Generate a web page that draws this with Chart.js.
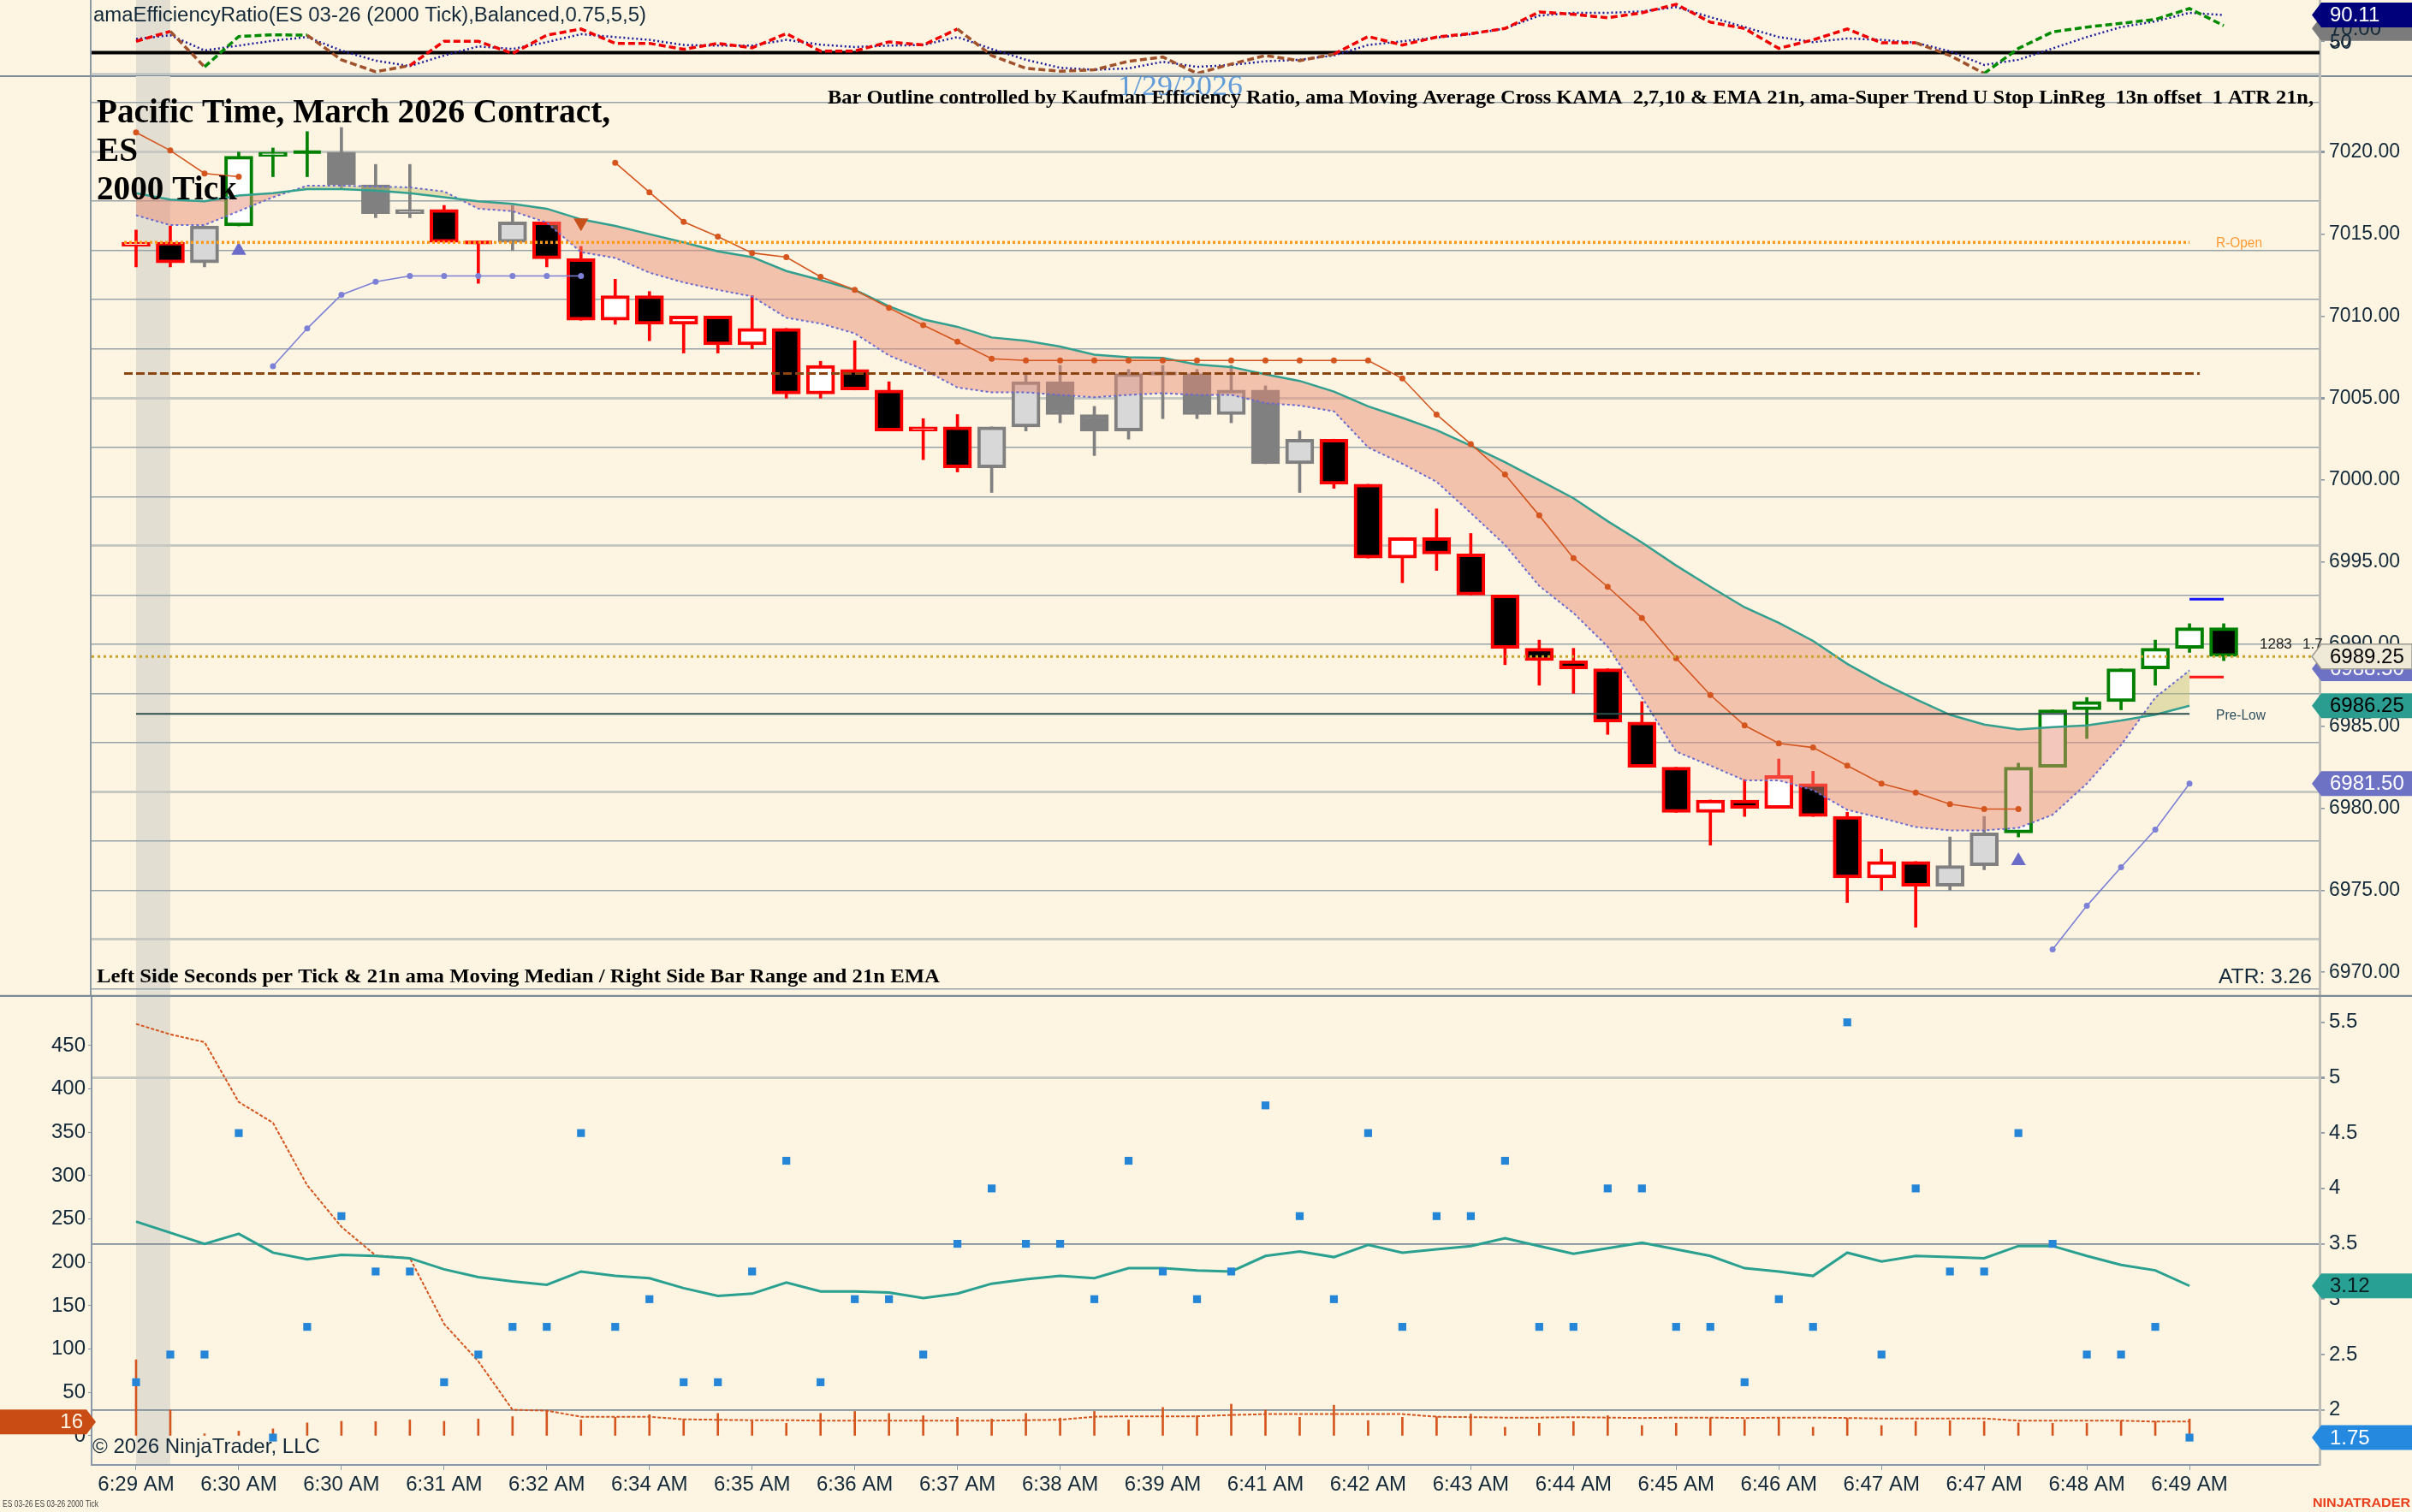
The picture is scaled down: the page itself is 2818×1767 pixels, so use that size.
<!DOCTYPE html>
<html>
<head>
<meta charset="utf-8">
<title>ES 03-26 2000 Tick</title>
<script src="https://cdn.jsdelivr.net/npm/chart.js@4.4.1/dist/chart.umd.min.js"></script>
<style>
  html, body { margin: 0; padding: 0; background: #fdf5e2; overflow: hidden; }
  #wrap { position: relative; width: 2818px; height: 1767px; background: #fdf5e2; }
  #wrap canvas { position: absolute; left: 0; }
</style>
</head>
<body>
<div id="wrap">
  <canvas id="erCanvas" width="2818" height="90" style="top:0"></canvas>
  <canvas id="priceCanvas" width="2818" height="1085" style="top:80px"></canvas>
  <canvas id="statCanvas" width="2818" height="602" style="top:1165px"></canvas>
</div>
<script>
// ---- data (one entry per 2000-tick bar) ----
const timeLabels = ['6:29 AM', '6:30 AM', '6:30 AM', '6:31 AM', '6:32 AM', '6:34 AM', '6:35 AM',
  '6:36 AM', '6:37 AM', '6:38 AM', '6:39 AM', '6:41 AM', '6:42 AM', '6:43 AM', '6:44 AM',
  '6:45 AM', '6:46 AM', '6:47 AM', '6:47 AM', '6:48 AM', '6:49 AM'];

const opens = [7014.25, 7014.5, 7013.25, 7015.5, 7019.75, 7020, 7020, 7018, 7016.25, 7016.5,
  7014.5, 7014.5, 7015.75, 7013.5, 7009.75, 7011.25, 7009.5, 7010, 7008.25, 7009.25,
  7005.25, 7006.75, 7005.5, 7003, 7003.25, 7000.75, 7003.25, 7006, 7004, 7003,
  7006.5, 7006.5, 7004, 7005.5, 7001, 7002.5, 6999.75, 6995.25, 6996.5, 6995.5,
  6993, 6989.75, 6989, 6988.5, 6985.25, 6982.5, 6979.75, 6980.5, 6980, 6981.5,
  6979.5, 6975.75, 6976.75, 6975.25, 6976.5, 6978.5, 6982.5, 6986, 6986.5, 6988.5,
  6989.75, 6991];
const highs = [7015.25, 7015.5, 7015.5, 7020, 7020.25, 7021.25, 7021.5, 7019.25, 7019.25, 7016.75,
  7014.5, 7016.75, 7015.75, 7014.25, 7012.25, 7011.5, 7010, 7010, 7011.25, 7009.25,
  7007.25, 7008.5, 7006, 7003.75, 7004, 7003.25, 7006.5, 7007, 7004.5, 7006.75,
  7007, 7006.75, 7007, 7005.75, 7003, 7002.5, 6999.75, 6996.5, 6998.25, 6996.75,
  6993, 6990.25, 6989.75, 6988.5, 6986.5, 6982.5, 6980.5, 6981.75, 6983, 6982.25,
  6979.75, 6977.5, 6976.75, 6978.25, 6979.5, 6982.75, 6986, 6986.75, 6988.5, 6990.25,
  6991.25, 6991.25];
const lows = [7013, 7013, 7013, 7015.5, 7018.5, 7018.5, 7017.75, 7016, 7016, 7014.5,
  7012, 7014, 7013, 7009.75, 7009.5, 7008.5, 7007.75, 7007.75, 7008, 7005,
  7005, 7005.5, 7003, 7001.25, 7000.5, 6999.25, 7003, 7003.5, 7001.5, 7002.5,
  7003.75, 7003.75, 7003.5, 7001, 6999.25, 6999.5, 6995.25, 6993.75, 6994.5, 6993,
  6988.75, 6987.5, 6987, 6984.5, 6982.5, 6979.75, 6977.75, 6979.5, 6980, 6979.5,
  6974.25, 6975, 6972.75, 6975, 6976.25, 6978.25, 6982.5, 6984.25, 6986, 6987.5,
  6989.5, 6989];
const closes = [7014.5, 7013.25, 7015.5, 7019.75, 7020, 7020, 7018, 7016.25, 7016.5, 7014.5,
  7014.5, 7015.75, 7013.5, 7009.75, 7011.25, 7009.5, 7010, 7008.25, 7009.25, 7005.25,
  7007, 7005.5, 7003, 7003.25, 7000.75, 7003.25, 7006, 7004, 7003, 7006.5,
  7006.5, 7004, 7005.5, 7001, 7002.5, 6999.75, 6995.25, 6996.5, 6995.5, 6993,
  6989.75, 6989, 6988.5, 6985.25, 6982.5, 6979.75, 6980.5, 6980, 6982, 6979.5,
  6975.75, 6976.75, 6975.25, 6976.5, 6978.5, 6982.5, 6986, 6986.5, 6988.5, 6989.75,
  6991, 6989.25];
// outline colour from the efficiency ratio: r = down, g = up, n = neutral
const outline = ('rr' + 'n' + 'ggg' + 'nnn' + 'rr' + 'n' + 'r' + 'rrrrrrrrrrrr' + 'nnnnnnnnnn' +
  'rrrrrrrrrrrrrrrrrr' + 'nn' + 'ggggggg').split('');

const kama = [7017.5, 7017.1, 7017.0, 7017.35, 7017.5, 7017.75, 7017.75, 7017.65, 7017.5, 7017.25,
  7017.0, 7016.85, 7016.55, 7015.9, 7015.5, 7015.0, 7014.5, 7013.95, 7013.6, 7012.75,
  7012.2, 7011.6, 7010.6, 7009.8, 7009.35, 7008.7, 7008.5, 7008.15, 7007.65, 7007.5,
  7007.45, 7007.05, 7006.9, 7006.45, 7006.05, 7005.4, 7004.5, 7003.8, 7003.05, 7002.1,
  7001.1, 7000.0, 6998.9, 6997.5, 6996.2, 6994.8, 6993.5, 6992.25, 6991.3, 6990.2,
  6988.8, 6987.65, 6986.65, 6985.7, 6985.1, 6984.8, 6984.95, 6985.05, 6985.35, 6985.7,
  6986.25, null];
const ema21 = [7016.15, 7015.55, 7015.55, 7016.4, 7017.25, 7017.95, 7017.95, 7017.9, 7017.85, 7017.6,
  7016.55, 7016.4, 7015.7, 7013.9, 7013.55, 7012.65, 7012.05, 7011.6, 7011.2, 7009.9,
  7009.55, 7008.95, 7007.6, 7006.75, 7005.65, 7005.35, 7005.35, 7005.2, 7005.05, 7005.2,
  7005.3, 7005.2, 7005.2, 7004.7, 7004.55, 7004.2, 7002.0, 7001.0, 6999.9, 6998.0,
  6996.05, 6993.55, 6991.9, 6989.85, 6986.75, 6983.45, 6982.6, 6981.7, 6981.7, 6981.1,
  6979.9, 6979.4, 6978.85, 6978.65, 6978.65, 6978.8, 6979.6, 6981.5, 6983.85, 6986.75,
  6988.4, null];
const stopDown = [7021.2, 7020.1, 7018.7, 7018.5, null, null, null, null, null, null,
  null, null, null, null, 7019.35, 7017.55, 7015.75, 7014.85, 7013.85, 7013.6,
  7012.4, 7011.6, 7010.5, 7009.45, 7008.45, 7007.4, 7007.3, 7007.3, 7007.3, 7007.3,
  7007.3, 7007.3, 7007.3, 7007.3, 7007.3, 7007.3, 7007.3, 7006.2, 7004.0, 7002.2,
  7000.35, 6997.85, 6995.25, 6993.5, 6991.6, 6989.15, 6986.9, 6985.05, 6983.95, 6983.7,
  6982.6, 6981.5, 6980.95, 6980.25, 6979.95, 6979.95, null, null, null, null,
  null, null];
const stopUp = [null, null, null, null, 7006.95, 7009.25, 7011.3, 7012.1, 7012.45, 7012.45,
  7012.45, 7012.45, 7012.45, 7012.45, null, null, null, null, null, null,
  null, null, null, null, null, null, null, null, null, null,
  null, null, null, null, null, null, null, null, null, null,
  null, null, null, null, null, null, null, null, null, null,
  null, null, null, null, null, null, 6971.4, 6974.05, 6976.4, 6978.7,
  6981.5, null];
const upSignalBars = [3, 55];
const upSignalPrices = [7014.0, 6976.8];
const downSignalBars = [13];
const downSignalPrices = [7015.7];

const R_OPEN = 7014.5;
const BROWN_LEVEL = 7006.5;
const LAST_PRICE = 6989.25;
const PRE_LOW = 6985.75;
const ATR_HIGH = 6992.75;
const ATR_LOW = 6988;

// efficiency ratio panel
const erValue = [50.9, 65.7, 12.6, 58, 60.6, 60, 23.2, 5.3, 14.6, 50.9,
  50.9, 32.5, 60, 69.2, 47.8, 47.8, 38.9, 47.8, 41.1, 62.4,
  36, 36.3, 50, 45.3, 69.2, 29.6, 10.4, 6.1, 8.3, 21,
  27.4, 2.8, 16.8, 29.6, 21.9, 31.7, 58, 45.3, 57.2, 62.4,
  70, 94.7, 91.2, 86.1, 93.4, 106.2, 79.4, 70, 40.2, 53,
  69.2, 48.7, 48.7, 29.6, 2.8, 40.2, 64.9, 72.1, 77.7, 83.6,
  99.8, 74.3];
const erSignal = [54.3, 59.9, 37.2, 44.4, 51.7, 57.2, 36.9, 21.9, 13.8, 29.6,
  43.2, 39.4, 49.6, 61.5, 57.2, 53, 45.3, 44.4, 44.4, 53,
  45.8, 42.3, 44.4, 45.3, 57.2, 39.4, 23.2, 11.3, 8.3, 10.4,
  20.2, 12.6, 15.5, 21, 23.2, 29.6, 45.3, 50.9, 56.5, 61.5,
  70, 89.2, 93.4, 93.4, 95.5, 102, 87, 72.1, 57.2, 49.6,
  55.1, 53, 48.7, 36, 15.5, 23.2, 40.2, 57.2, 72.1, 80.6,
  93.4, 90.1];
const erState = ('rr' + 'b' + 'ggg' + 'bbb' + 'rrrrrrrrrrrrrrrr' + 'bbbbbbbbbbb' +
  'rrrrrrrrrrrrrrrrr' + 'bb' + 'ggggggg').split('');
const ER_LEVEL = 34;

// lower panel: seconds per tick (left) and bar range (right)
const secPerTick = [87.7, 29.7, 2.3, 5.4, 8, 14.9, 16.7, 16.4, 18.3, 16.7,
  19.4, 22.1, 28.9, 18.3, 21.3, 24.3, 19.4, 25.8, 16.7, 14.5,
  25.8, 28.1, 25.8, 23.2, 21.3, 19.4, 25.8, 20.5, 28.1, 18.3,
  32.7, 23.2, 36.5, 29.7, 21.3, 35.3, 17.5, 21.3, 22.1, 25.1,
  9.9, 14.5, 16.4, 23.2, 11.8, 14.5, 20.5, 18.6, 20.5, 9.9,
  20.5, 11.8, 16.7, 17.5, 16.7, 14.9, 14.5, 14.5, 17.5, 16.7,
  19.4, null];
const secMedian = [475, 463, 454, 385, 361, 289, 241, 208, 205, 129,
  86, 30, 29, 22, 22, 22, 19, 18.5, 18, 18,
  17.5, 17.5, 17.5, 17.5, 17.5, 17.5, 18, 18.5, 22, 22.5,
  22.5, 22.5, 24, 25, 25, 25, 25, 25, 22, 21.5,
  21, 21, 21.5, 21, 20.5, 21, 21, 20.5, 21, 21,
  20.5, 20, 20, 20, 20, 17.5, 17.5, 17.5, 17.5, 16.4,
  16.4, null];
const barRange = [2.25, 2.5, 2.5, 4.5, 1.75, 2.75, 3.75, 3.25, 3.25, 2.25,
  2.5, 2.75, 2.75, 4.5, 2.75, 3.0, 2.25, 2.25, 3.25, 4.25,
  2.25, 3.0, 3.0, 2.5, 3.5, 4.0, 3.5, 3.5, 3.0, 4.25,
  3.25, 3.0, 3.25, 4.75, 3.75, 3.0, 4.5, 2.75, 3.75, 3.75,
  4.25, 2.75, 2.75, 4.0, 4.0, 2.75, 2.75, 2.25, 3.0, 2.75,
  5.5, 2.5, 4.0, 3.25, 3.25, 4.5, 3.5, 2.5, 2.5, 2.75,
  1.75, null];
const rangeEma = [3.70, 3.60, 3.50, 3.59, 3.42, 3.36, 3.40, 3.39, 3.37, 3.27,
  3.20, 3.16, 3.13, 3.25, 3.21, 3.19, 3.10, 3.03, 3.05, 3.15,
  3.07, 3.07, 3.06, 3.01, 3.05, 3.14, 3.18, 3.21, 3.19, 3.28,
  3.28, 3.26, 3.25, 3.39, 3.43, 3.38, 3.49, 3.42, 3.45, 3.48,
  3.55, 3.48, 3.41, 3.46, 3.51, 3.45, 3.39, 3.28, 3.25, 3.21,
  3.42, 3.34, 3.39, 3.38, 3.37, 3.48, 3.48, 3.39, 3.31, 3.26,
  3.12, null];

// ---- layout / style ----
const X_MIN = -1.3, X_MAX = 63.8;
const SANS = "'Liberation Sans', Arial, sans-serif";
const SERIF = "'Liberation Serif', 'Times New Roman', serif";
const INK = '#13293a';
const AXIS_LINE = '#bdbdb5';
const FRAME = '#7d8c98';
const OUTLINE = { r: '#ff0000', g: '#008000', n: '#808080' };
const ER_COLOR = { r: '#f00000', g: '#008a00', b: '#a0522d' };

Chart.defaults.font.family = SANS;
Chart.defaults.animation = false;

const idx = closes.map((_, i) => i);
const pts = arr => arr.map((v, i) => ({ x: i, y: v }));

// axis sizes are pinned so the three panels share one x mapping
const fitY = w => s => { s.width = w; s.paddingTop = 0; s.paddingBottom = 0; };
const fitX = h => s => { s.height = h; s.paddingLeft = 0; s.paddingRight = 0; };

function bodyFill(i) {
  const up = closes[i] > opens[i];
  if (outline[i] === 'n') return up ? '#d8d8d8' : '#808080';
  return up ? '#ffffff' : '#000000';
}

function hline(y, x0, x1, color, width, dash) {
  return {
    type: 'line', data: [{ x: x0, y }, { x: x1, y }], borderColor: color, borderWidth: width,
    borderDash: dash, pointRadius: 0, order: 0
  };
}

function xAxis() {
  return { type: 'linear', min: X_MIN, max: X_MAX, display: false, offset: false, grid: { offset: false } };
}

function text(ctx, str, x, y, o) {
  ctx.save();
  ctx.font = o.font;
  ctx.fillStyle = o.color;
  ctx.textBaseline = o.baseline || 'alphabetic';
  const w = ctx.measureText(str).width;
  const sx = o.sx || (o.width ? o.width / w : 1);
  let left = x;
  if (o.align === 'right') left = x - w * sx;
  if (o.align === 'center') left = x - w * sx / 2;
  ctx.translate(left, y);
  ctx.scale(sx, 1);
  ctx.fillText(str, 0, 0);
  ctx.restore();
  return sx;
}

function tag(ctx, side, y, str, bg, fg, stroke) {
  const h = 29;
  ctx.save();
  ctx.beginPath();
  if (side === 'right') {
    const x0 = 2712;
    ctx.moveTo(x0 - 11, y);
    ctx.lineTo(x0, y - h / 2); ctx.lineTo(2818, y - h / 2);
    ctx.lineTo(2818, y + h / 2); ctx.lineTo(x0, y + h / 2);
  } else {
    const x0 = 101;
    ctx.moveTo(x0 + 11, y);
    ctx.lineTo(x0, y - h / 2); ctx.lineTo(0, y - h / 2);
    ctx.lineTo(0, y + h / 2); ctx.lineTo(x0, y + h / 2);
  }
  ctx.closePath();
  ctx.fillStyle = bg;
  ctx.fill();
  if (stroke) { ctx.strokeStyle = stroke; ctx.lineWidth = 1.5; ctx.stroke(); }
  ctx.restore();
  if (side === 'right') text(ctx, str, 2722, y + 1, { font: '24px ' + SANS, color: fg, baseline: 'middle' });
  else text(ctx, str, 97, y + 1, { font: '24px ' + SANS, color: fg, baseline: 'middle', align: 'right' });
}

// grey session marker behind bar 0
const bandPlugin = {
  id: 'band',
  beforeDraw(chart) {
    const { ctx, chartArea: a } = chart;
    const x = chart.scales.x;
    const l = x.getPixelForValue(0), r = x.getPixelForValue(1);
    ctx.save();
    ctx.fillStyle = '#e2dfd2';
    ctx.fillRect(l, a.top, r - l, a.bottom - a.top);
    ctx.restore();
  }
};

function frameLine(ctx, x0, y0, x1, y1, color, w) {
  ctx.save();
  ctx.strokeStyle = color; ctx.lineWidth = w;
  ctx.beginPath(); ctx.moveTo(x0, y0); ctx.lineTo(x1, y1); ctx.stroke();
  ctx.restore();
}

// ---- efficiency ratio panel ----
new Chart(document.getElementById('erCanvas'), {
  type: 'line',
  data: {
    datasets: [
      { data: [{ x: X_MIN, y: ER_LEVEL }, { x: X_MAX, y: ER_LEVEL }], borderColor: '#000000', borderWidth: 4, pointRadius: 0, order: 3 },
      { data: pts(erSignal), borderColor: '#1d1d9e', borderWidth: 2.5, borderDash: [2, 3], pointRadius: 0, order: 2 },
      {
        data: pts(erValue), borderColor: '#f00000', borderWidth: 3.5, borderDash: [8, 4], pointRadius: 0, order: 1,
        segment: { borderColor: c => ER_COLOR[erState[c.p1DataIndex]] }
      }
    ]
  },
  options: {
    responsive: false, devicePixelRatio: 1, events: [],
    layout: { autoPadding: false, padding: { left: 107, top: 0, right: 0, bottom: 2 } },
    plugins: { legend: { display: false }, tooltip: { enabled: false } },
    scales: {
      x: xAxis(),
      y: {
        position: 'right', min: 0, max: 112.6,
        afterBuildTicks: s => { s.ticks = [{ value: 50 }]; },
        afterFit: fitY(108),
        ticks: { callback: v => String(v), color: INK, font: { size: 23 }, padding: 5 },
        grid: { drawOnChartArea: false, tickLength: 6, color: '#8d9aa3' },
        border: { color: AXIS_LINE, width: 3 }
      }
    }
  },
  plugins: [bandPlugin, {
    id: 'erDecor',
    afterDraw(chart) {
      const { ctx } = chart;
      const y = chart.scales.y;
      frameLine(ctx, 106, 0, 106, 88, '#8d9aa3', 2);
      frameLine(ctx, 106, 86.5, 2711, 86.5, '#b3bcbf', 2);
      frameLine(ctx, 0, 89, 2818, 89, FRAME, 2);
      text(ctx, 'amaEfficiencyRatio(ES 03-26 (2000 Tick),Balanced,0.75,5,5)', 109, 25,
        { font: '23px ' + SANS, color: INK, width: 646 });
      tag(ctx, 'right', y.getPixelForValue(70), '70.00', '#7b7b7b', INK);
      tag(ctx, 'right', y.getPixelForValue(90.11), '90.11', '#00007a', '#ffffff');
      // the 50 label sits on top of the grey tag in the original
      text(ctx, '50', 2722, y.getPixelForValue(50) + 2, { font: '23px ' + SANS, color: INK, baseline: 'middle' });
    }
  }]
});

// ---- price panel ----
const bodyIdx = idx.filter(i => opens[i] !== closes[i]);
const dojiIdx = idx.filter(i => opens[i] === closes[i]);
const lightGrid = v => { const m = ((7020 - v) % 24 + 24) % 24; return m === 0 || m === 15; };

new Chart(document.getElementById('priceCanvas'), {
  type: 'bar',
  data: {
    datasets: [
      hline(LAST_PRICE, X_MIN, X_MAX, '#c9a227', 3, [3, 4]),
      hline(BROWN_LEVEL, -0.35, 60.3, '#8b4513', 3, [10, 4]),
      hline(R_OPEN, -0.35, 60, '#ff9a1a', 3.5, [3, 3]),
      hline(PRE_LOW, 0, 60, '#2f4f4f', 2, []),
      hline(ATR_HIGH, 60, 61, '#1414ff', 3, []),
      hline(ATR_LOW, 60, 61, '#ff1414', 3, []),
      {
        type: 'scatter', data: upSignalBars.map((b, k) => ({ x: b, y: upSignalPrices[k] })),
        pointStyle: 'triangle', pointRadius: 10, backgroundColor: '#6b6bc9', borderWidth: 0, order: 0
      },
      {
        type: 'scatter', data: downSignalBars.map((b, k) => ({ x: b, y: downSignalPrices[k] })),
        pointStyle: 'triangle', rotation: 180, pointRadius: 10, backgroundColor: '#c8501a', borderWidth: 0, order: 0
      },
      {
        type: 'line', data: pts(stopDown), borderColor: '#d4561e', borderWidth: 1.6, pointRadius: 3.5,
        pointBackgroundColor: '#d4561e', pointBorderWidth: 0, spanGaps: false, order: 1
      },
      {
        type: 'line', data: pts(stopUp), borderColor: '#7c80d6', borderWidth: 1.6, pointRadius: 3.5,
        pointBackgroundColor: '#7c80d6', pointBorderWidth: 0, spanGaps: false, order: 1
      },
      { type: 'line', data: pts(kama), borderColor: '#33a08f', borderWidth: 2.5, pointRadius: 0, order: 2 },
      {
        type: 'line', data: pts(ema21), borderColor: '#6a6ad0', borderWidth: 2, borderDash: [3, 3], pointRadius: 0, order: 2,
        fill: { target: '-1', above: 'rgba(196,192,108,0.45)', below: 'rgba(232,138,116,0.48)' }
      },
      {
        type: 'bar', grouped: false, order: 5, barThickness: 33, borderWidth: 4, borderSkipped: false,
        data: bodyIdx.map(i => ({ x: i, y: [Math.min(opens[i], closes[i]), Math.max(opens[i], closes[i])] })),
        backgroundColor: bodyIdx.map(bodyFill),
        borderColor: bodyIdx.map(i => OUTLINE[outline[i]])
      },
      {
        type: 'scatter', order: 5, pointStyle: 'line', pointRadius: 16, borderWidth: 4,
        data: dojiIdx.map(i => ({ x: i, y: closes[i] })),
        borderColor: dojiIdx.map(i => OUTLINE[outline[i]])
      },
      {
        type: 'bar', grouped: false, order: 6, barThickness: 3,
        data: idx.map(i => ({ x: i, y: [lows[i], highs[i]] })),
        backgroundColor: idx.map(i => OUTLINE[outline[i]])
      }
    ]
  },
  options: {
    responsive: false, devicePixelRatio: 1, events: [],
    layout: { autoPadding: false, padding: { left: 107, top: 9, right: 0, bottom: 0 } },
    plugins: { legend: { display: false }, tooltip: { enabled: false } },
    scales: {
      x: xAxis(),
      y: {
        position: 'right', min: 6968.5, max: 7024.63,
        afterBuildTicks: s => {
          const t = [];
          for (let v = 6969; v <= 7024; v++) t.push({ value: v });
          s.ticks = t;
        },
        afterFit: fitY(108),
        ticks: {
          autoSkip: false, color: INK, font: { size: 23 }, padding: 5,
          callback: v => (v % 5 === 0 ? v.toFixed(2) : '')
        },
        grid: {
          color: c => (c.tick.value % 3 !== 0 ? 'rgba(0,0,0,0)' : lightGrid(c.tick.value) ? '#c6c8c1' : '#97a3a9'),
          lineWidth: c => (lightGrid(c.tick.value) ? 3 : 1.6),
          tickColor: c => (c.tick.value % 5 === 0 ? '#8d9aa3' : 'rgba(0,0,0,0)'),
          tickLength: 6
        },
        border: { color: AXIS_LINE, width: 3 }
      }
    }
  },
  plugins: [bandPlugin, {
    id: 'priceDecor',
    afterDraw(chart) {
      const { ctx } = chart;
      const y = chart.scales.y;
      frameLine(ctx, 106, 9, 106, 1085, '#8d9aa3', 2);
      frameLine(ctx, 0, 1084, 2818, 1084, FRAME, 2.5);

      const sx = text(ctx, 'Pacific Time, March 2026 Contract,', 113, 63,
        { font: 'bold 40px ' + SERIF, color: '#000000', width: 600 });
      text(ctx, 'ES', 113, 108, { font: 'bold 40px ' + SERIF, color: '#000000', sx });
      text(ctx, '2000 Tick', 113, 153, { font: 'bold 40px ' + SERIF, color: '#000000', sx });
      text(ctx, '1/29/2026', 1379, 31, { font: '34px ' + SERIF, color: 'rgba(70,140,215,0.85)', align: 'center', width: 146 });
      text(ctx, 'Bar Outline controlled by Kaufman Efficiency Ratio, ama Moving Average Cross KAMA  2,7,10 & EMA 21n, ama-Super Trend U Stop LinReg  13n offset  1 ATR 21n,',
        2703, 41, { font: 'bold 24px ' + SERIF, color: '#000000', align: 'right', width: 1736 });
      text(ctx, 'Left Side Seconds per Tick & 21n ama Moving Median / Right Side Bar Range and 21n EMA',
        113, 1068, { font: 'bold 24px ' + SERIF, color: '#000000', width: 985 });
      text(ctx, 'ATR: 3.26', 2701, 1069, { font: '24px ' + SANS, color: INK, align: 'right', width: 109 });

      text(ctx, 'R-Open', 2589, y.getPixelForValue(R_OPEN) + 1, { font: '16px ' + SANS, color: '#ff9a33', baseline: 'middle', width: 54 });
      text(ctx, 'Pre-Low', 2589, y.getPixelForValue(PRE_LOW) + 2, { font: '16px ' + SANS, color: '#2f4f5f', baseline: 'middle', width: 58 });
      text(ctx, '1283', 2640, 673, { font: '17px ' + SANS, color: '#222222', baseline: 'middle' });
      text(ctx, '1.7', 2690, 673, { font: '17px ' + SANS, color: '#222222', baseline: 'middle' });

      tag(ctx, 'right', y.getPixelForValue(6988.5), '6988.50', '#6e72c4', '#ffffff');
      tag(ctx, 'right', y.getPixelForValue(LAST_PRICE), '6989.25', '#efe9d8', '#000000', '#9a9a90');
      tag(ctx, 'right', y.getPixelForValue(6986.25), '6986.25', '#2a9d90', '#000000');
      tag(ctx, 'right', y.getPixelForValue(6981.5), '6981.50', '#6e72c4', '#ffffff');
    }
  }]
});

// ---- seconds per tick / bar range panel ----
new Chart(document.getElementById('statCanvas'), {
  type: 'bar',
  data: {
    datasets: [
      {
        type: 'scatter', data: pts(barRange), yAxisID: 'yR', pointStyle: 'rect', pointRadius: 6.5,
        backgroundColor: '#2585d6', borderWidth: 0, order: 0
      },
      { type: 'line', data: pts(rangeEma), yAxisID: 'yR', borderColor: '#2aa090', borderWidth: 3, pointRadius: 0, order: 1 },
      { type: 'line', data: pts(secMedian), yAxisID: 'yL', borderColor: '#d4561e', borderWidth: 2, borderDash: [4, 2], pointRadius: 0, order: 2 },
      { type: 'bar', data: pts(secPerTick), yAxisID: 'yL', backgroundColor: '#d4561e', barThickness: 2, grouped: false, order: 3 }
    ]
  },
  options: {
    responsive: false, devicePixelRatio: 1, events: [],
    layout: { autoPadding: false, padding: 0 },
    plugins: { legend: { display: false }, tooltip: { enabled: false } },
    scales: {
      x: {
        type: 'linear', min: X_MIN, max: X_MAX, offset: false, position: 'bottom',
        afterBuildTicks: s => { s.ticks = timeLabels.map((_, k) => ({ value: k * 3 })); },
        afterFit: fitX(55),
        ticks: { autoSkip: false, maxRotation: 0, color: INK, font: { size: 24 }, padding: 3, callback: v => timeLabels[v / 3] },
        grid: { drawOnChartArea: false, offset: false, tickLength: 6, color: '#8898a8' },
        border: { color: '#8898a8', width: 2 }
      },
      yL: {
        position: 'left', min: -33.6, max: 506.2,
        afterBuildTicks: s => { const t = []; for (let v = 0; v <= 450; v += 50) t.push({ value: v }); s.ticks = t; },
        afterFit: fitY(107),
        ticks: { autoSkip: false, color: INK, font: { size: 24 }, padding: 3, callback: v => String(v) },
        grid: { drawOnChartArea: false, tickLength: 4, color: '#8898a8' },
        border: { color: '#8898a8', width: 2 }
      },
      yR: {
        position: 'right', min: 1.503, max: 5.73,
        afterBuildTicks: s => { const t = []; for (let k = 4; k <= 11; k++) t.push({ value: k / 2 }); s.ticks = t; },
        afterFit: fitY(108),
        ticks: { autoSkip: false, color: INK, font: { size: 24 }, padding: 5, callback: v => String(v) },
        grid: {
          color: c => (c.tick.value === 5 ? '#c6c8c1' : (c.tick.value === 2 || c.tick.value === 3.5) ? '#7d8c98' : 'rgba(0,0,0,0)'),
          lineWidth: c => (c.tick.value === 5 ? 3 : 1.8),
          tickColor: '#8d9aa3', tickLength: 6
        },
        border: { color: AXIS_LINE, width: 3 }
      }
    }
  },
  plugins: [bandPlugin, {
    id: 'statDecor',
    afterDraw(chart) {
      const { ctx } = chart;
      text(ctx, '\u00a9 2026 NinjaTrader, LLC', 108, 533, { font: '24px ' + SANS, color: INK, width: 266 });
      text(ctx, 'NINJATRADER', 2816, 592, { font: 'bold 15px ' + SANS, color: '#e8401c', align: 'right', baseline: 'middle', width: 114 });
      text(ctx, 'ES 03-26 ES 03-26 2000 Tick', 3, 593, { font: '10px ' + SANS, color: '#444444', baseline: 'middle', width: 112 });
      tag(ctx, 'right', chart.scales.yR.getPixelForValue(3.12), '3.12', '#28a093', '#0b1e1e');
      tag(ctx, 'right', chart.scales.yR.getPixelForValue(1.75), '1.75', '#2589e0', '#ffffff');
      tag(ctx, 'left', chart.scales.yL.getPixelForValue(16), '16', '#c84c14', '#fff6e6');
    }
  }]
});
</script>
</body>
</html>
